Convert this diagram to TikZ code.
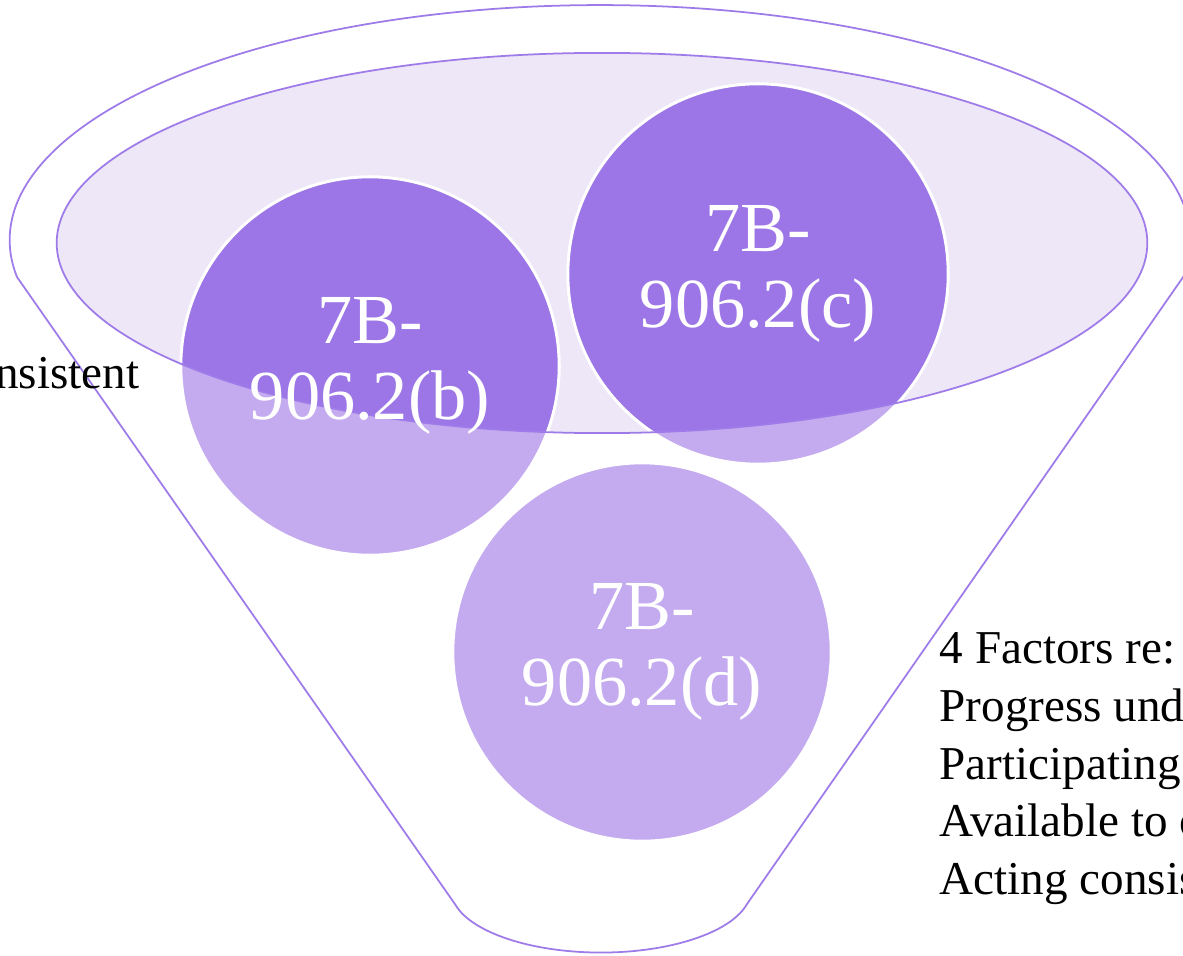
\documentclass[tikz,border=0pt]{standalone}
\usepackage{fontspec}
\setmainfont{Liberation Serif}
\definecolor{funnelline}{HTML}{9E7BE8}
\definecolor{lidfill}{HTML}{EDE7F8}
\definecolor{bubblelight}{HTML}{C4AAEE}
\definecolor{bubbledark}{HTML}{9C76E6}
\tikzset{
  funnel/.style={draw=funnelline, line width=0.5pt},
  bubble/.style={fill=bubblelight, draw=white, line width=0.8pt},
  bubbletext/.style={text=white, align=center, inner sep=0pt, font=\fontsize{20}{21.5}\selectfont},
  sidetext/.style={text=black, align=left, inner sep=0pt, font=\fontsize{13.4}{16.4}\selectfont}
}
\begin{document}
\begin{tikzpicture}[x=0.01cm, y=-0.01cm]
    \clip (0,0) rectangle (1183,955);
    \fill[white] (0,0) rectangle (1183,955);
    % funnel body
    \draw[funnel] (17,277) arc[start angle=189, end angle=-9, x radius=5.9cm, y radius=2.35cm]
      -- (747,904) arc[start angle=-13.3, end angle=-166.7, x radius=1.5cm, y radius=0.63cm] -- cycle;
    % inner lid
    \coordinate (lid) at (602,243);
    \fill[lidfill] (lid) ellipse[x radius=5.45cm, y radius=1.9cm];
    % bubbles
    \coordinate (cb) at (370,366);
    \coordinate (cc) at (758,274);
    \coordinate (cd) at (642,652);
    \path[bubble] (cb) circle (1.89cm);
    \path[bubble] (cc) circle (1.9cm);
    \path[bubble] (cd) circle (1.89cm);
    \begin{scope}
      \clip (lid) ellipse[x radius=5.45cm, y radius=1.9cm];
      \path[bubble, fill=bubbledark] (cb) circle (1.89cm);
      \path[bubble, fill=bubbledark] (cc) circle (1.9cm);
    \end{scope}
    \draw[funnel] (lid) ellipse[x radius=5.45cm, y radius=1.9cm];
    % labels
    \node[bubbletext] (b) at (cb) {7B-\\906.2(b)};
    \node[bubbletext] (c) at (cc) {7B-\\906.2(c)};
    \node[bubbletext] (d) at (cd) {7B-\\906.2(d)};
    \node[sidetext, anchor=base east] (left) at (140,388) {nsistent};
    \node[sidetext, anchor=north west] (right) at (939,632) {4 Factors re: I\\Progress unde\\Participating\\Available to c\\Acting consis};
\end{tikzpicture}
\end{document}
